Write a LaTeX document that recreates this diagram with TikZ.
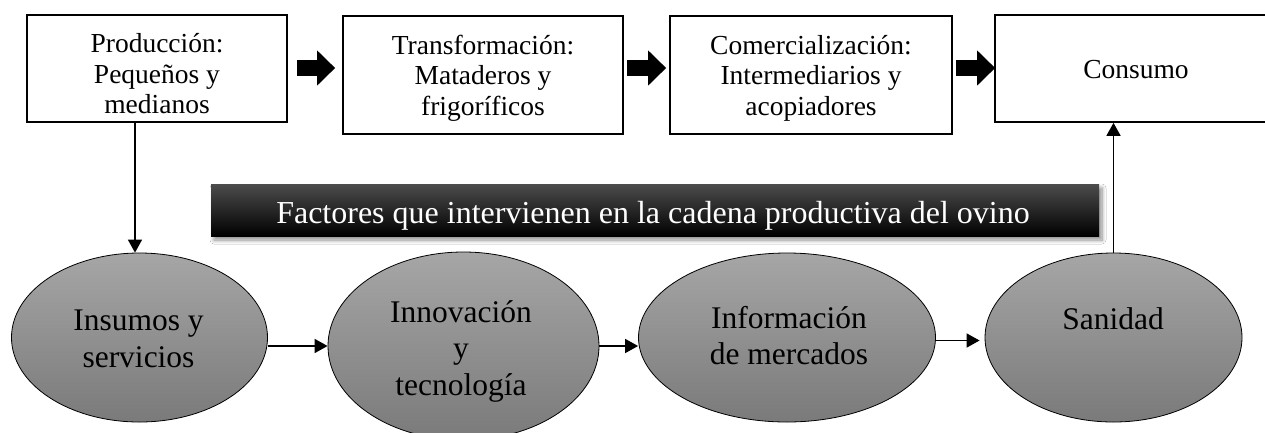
\documentclass[tikz,border=0pt]{standalone}
\usepackage{fontspec}
\setmainfont{Liberation Serif}
\usetikzlibrary{arrows.meta,shapes.geometric,shadows.blur,calc}
\begin{document}
\begin{tikzpicture}[x=1pt,y=-1pt,
  box/.style={draw=black,line width=1.7pt,rectangle,inner sep=0pt},
  boxtext/.style={align=center,inner sep=0pt,font=\fontsize{27.5}{30.5}\selectfont},
  oval/.style={ellipse,draw=black,line width=0.8pt,inner sep=0pt,
    top color={rgb,255:red,166;green,166;blue,166},
    bottom color={rgb,255:red,122;green,122;blue,122}},
  ovaltext/.style={align=center,inner sep=0pt,font=\fontsize{31.5}{36.5}\selectfont},
  blockarr/.style={line width=16pt,-{Triangle[length=18pt,width=34pt]}},
  conn/.style={line width=1.6pt,-{Triangle[length=13pt,width=14pt]}},
  banner/.style={rectangle,inner sep=0pt,draw=none,
    top color=black!70,middle color=black,bottom color=black,
    blur shadow={shadow xshift=3pt,shadow yshift=-4pt,shadow blur steps=8,
      shadow blur radius=4pt,shadow opacity=45}}
]
\useasboundingbox (0,0) rectangle (1265,432);
\clip (0,0) rectangle (1265,432);
\fill[white] (0,0) rectangle (1265,432);

% top boxes
\node[box,minimum width=260pt,minimum height=107pt] (b1) at (157,68.5) {};
\node[box,minimum width=280pt,minimum height=118pt] (b2) at (483,75) {};
\node[box,minimum width=282pt,minimum height=118pt] (b3) at (811,75) {};
\node[box,minimum width=290pt,minimum height=107pt] (b4) at (1140,68.5) {};

\node[boxtext] (t1) at (157,74) {Producción:\\Pequeños y\\medianos};
\node[boxtext] (t2) at (483,78) {Transformación:\\Mataderos y\\frigoríficos};
\node[boxtext] (t3) at (811,78) {Comercialización:\\Intermediarios y\\acopiadores};
\node[boxtext] (t4) at (1136,70) {Consumo};

% block arrows
\coordinate (ay) at (0,68);
\draw[blockarr] ($(b1.east |- ay)+(9,0)$) -- ($(b2.west |- ay)+(-7,0)$);
\draw[blockarr] ($(b2.east |- ay)+(3,0)$) -- ($(b3.west |- ay)+(-3,0)$);
\draw[blockarr] ($(b3.east |- ay)+(3,0)$) -- ($(b4.west |- ay)+(1,0)$);

% banner
\node[banner,minimum width=888pt,minimum height=52pt] (ban) at (655,210) {};
\node[inner sep=0pt,text=white,font=\fontsize{32}{38}\selectfont] (bant) at (653,215.5)
  {Factores que intervienen en la cadena productiva del ovino};

% ellipses
\node[oval,minimum width=256pt,minimum height=169pt] (e1) at (139.5,337.5) {};
\node[oval,minimum width=271pt,minimum height=188pt] (e2) at (463.5,346) {};
\node[oval,minimum width=297pt,minimum height=169pt] (e3) at (787,337.5) {};
\node[oval,minimum width=257pt,minimum height=169pt] (e4) at (1113.5,337.5) {};

\node[ovaltext] (et1) at (138.5,339) {Insumos y\\servicios};
\node[ovaltext] (et2) at (461,351) {Innovación\\y\\tecnología};
\node[ovaltext] (et3) at (789,335.5) {Información\\de mercados};
\node[ovaltext] (et4) at (1113,319) {Sanidad};

% connectors
\draw[conn] (b1.south -| 135,0) -- (135,0 |- e1.north);
\draw[conn] (e4.north) -- (e4.north |- b4.south);
\draw[conn] (e1.east |- e2.west) -- (e2.west);
\draw[conn] (e2.east) -- (e2.east -| e3.west);
\draw[conn] ($(e3.east)+(0,3)$) -- ($(e4.west)+(-5,3)$);
\end{tikzpicture}
\end{document}
